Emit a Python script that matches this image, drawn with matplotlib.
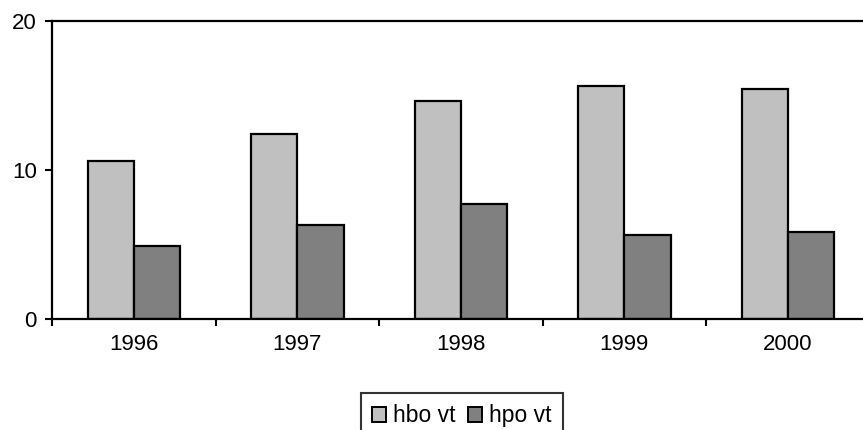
import matplotlib.pyplot as plt
import numpy as np
from matplotlib.patches import Patch

plt.rcParams['font.family'] = ['Liberation Sans', 'DejaVu Sans']

years = ['1996', '1997', '1998', '1999', '2000']
hbo_vt = [10.6, 12.4, 14.6, 15.6, 15.4]
hpo_vt = [4.9, 6.3, 7.7, 5.6, 5.8]

fig = plt.figure(figsize=(8.63, 4.30), dpi=100)
ax = fig.add_axes([0.0603, 0.2593, 0.9473, 0.6919])

x = np.arange(len(years))
w = 0.283
ax.bar(x - w / 2, hbo_vt, w, color='#c0c0c0', edgecolor='black', linewidth=1.6)
ax.bar(x + w / 2, hpo_vt, w, color='#808080', edgecolor='black', linewidth=1.6)

ax.set_xlim(-0.5, 4.5)
ax.set_ylim(0, 20)
ax.set_yticks([0, 10, 20])
# category boundaries get the tick marks, year labels sit in the middle
ax.set_xticks(np.arange(-0.5, 5, 1), minor=False)
ax.set_xticklabels([])
ax.set_xticks(x, labels=years, minor=True)
ax.tick_params(axis='x', which='major', direction='out', length=5, width=1.5)
ax.tick_params(axis='x', which='minor', length=0, pad=11, labelsize=16)
ax.tick_params(axis='y', direction='out', length=5, width=1.5, pad=6, labelsize=16)

for s in ['left', 'bottom', 'top']:
    ax.spines[s].set_linewidth(1.6)
ax.spines['right'].set_visible(False)

handles = [Patch(facecolor='#c0c0c0', edgecolor='black', linewidth=1.4, label='hbo vt'),
           Patch(facecolor='#808080', edgecolor='black', linewidth=1.4, label='hpo vt')]
leg = fig.legend(handles=handles, loc='upper left', bbox_to_anchor=(361 / 863, 1 - 393 / 430),
                 ncol=2, fontsize=16.5, frameon=True, fancybox=False, handlelength=0.6,
                 handleheight=0.6, handletextpad=0.3, columnspacing=0.55, borderpad=0.5,
                 borderaxespad=0)
leg.get_frame().set_edgecolor('black')
leg.get_frame().set_linewidth(1.5)

fig.savefig('out.png', dpi=100)
